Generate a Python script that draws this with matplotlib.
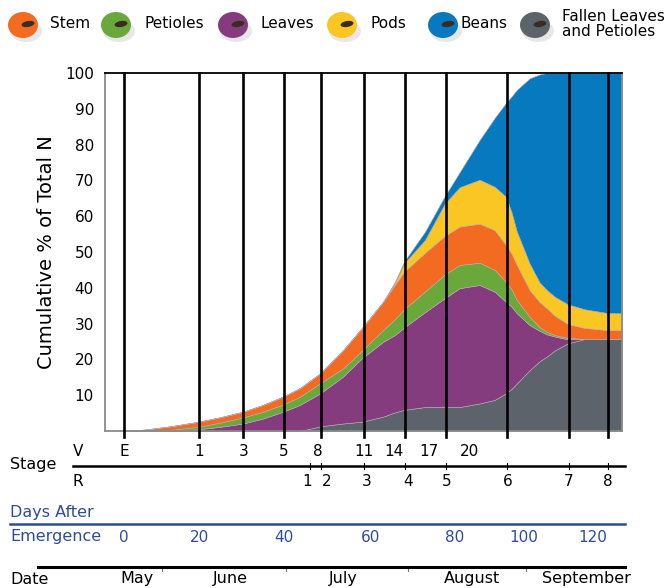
import numpy as np
import matplotlib
matplotlib.use("Agg")
from matplotlib import pyplot as plt
from matplotlib import transforms
from matplotlib.lines import Line2D
from matplotlib.patches import Ellipse

# days after emergence where the layers were read
days = [0, 5.6, 12.3, 20, 25.2, 30.4, 35.1, 39.8, 43.7, 48.3, 53.6, 57.9, 62.9, 65.7, 67.9,
        72.9, 77.6, 81.4, 87.2, 91.6, 94.8, 96.5, 98.0, 101.7, 104.6, 106.7, 109.0, 112.8,
        117.7, 124.1, 128.4]

# share of total N in each plant part (stacked bottom -> top)
fallen = [0, 0, 0, 0, 0, 0, 0, 0, 0, 1.3, 2.1, 2.6, 4.0, 5.2, 5.9,
          6.7, 6.8, 6.7, 7.7, 8.7, 10.5, 11.8, 13.3, 17.0, 19.5, 20.8, 22.5, 24.5,
          25.7, 25.7, 25.7]
leaves = [0, 0, 0.1, 0.5, 1.2, 2.1, 3.5, 5.4, 7.3, 9.2, 13.1, 17.7, 20.9, 21.6, 23.0,
          26.5, 30.3, 33.2, 33.1, 30.2, 25.6, 22.9, 19.6, 12.6, 8.5, 6.2, 3.9, 1.1,
          0, 0, 0]
petioles = [0, 0, 0.2, 0.7, 1.2, 1.7, 1.9, 2.0, 2.3, 2.8, 2.3, 2.1, 3.3, 4.4, 5.1,
            5.8, 6.6, 6.5, 6.2, 6.1, 5.6, 4.8, 3.7, 2.3, 1.0, 0.7, 0.4, 0.4,
            0, 0, 0]
stem = [0, 0.4, 1.0, 1.4, 1.5, 1.6, 1.9, 2.2, 2.4, 2.8, 5.1, 6.3, 7.9, 9.6, 10.5,
        10.8, 10.8, 10.7, 10.9, 11.1, 10.3, 10.0, 9.8, 7.5, 7.0, 6.6, 5.4, 3.9,
        3.1, 2.5, 2.5]
pods = [0, 0, 0, 0, 0, 0, 0, 0, 0, 0, 0, 0, 0, 0.5, 2.3,
        3.6, 9.0, 11.0, 12.3, 12.1, 13.5, 11.5, 9.3, 7.4, 5.5, 5.1, 5.3, 5.5,
        5.2, 4.8, 4.7]
beans = [0, 0, 0, 0, 0, 0, 0, 0, 0, 0, 0, 0, 0, 0.3, 0.5,
         2.3, 2.1, 4.2, 11.1, 19.3, 26.1, 32.5, 39.6, 51.7, 58.1, 60.6, 62.5, 64.6,
         66.0, 67.0, 67.1]

part_names = ["Stem", "Petioles", "Leaves", "Pods", "Beans", "Fallen Leaves\nand Petioles"]
part_colors = ["#f26b21", "#6aa83b", "#853c7e", "#f9c623", "#0779bf", "#5c636a"]

# growth stages (days after emergence)
v_labels = ["E", "1", "3", "5", "8", "11", "14", "17", "20"]
v_days = [0, 20, 30.4, 40, 47.8, 58.4, 65.5, 73.8, 84.3]
r_labels = ["1", "2", "3", "4", "5", "6", "7", "8"]
r_days = [46, 48.6, 58.4, 68.2, 77.8, 95.0, 113.0, 124.4]
r_label_days = [45.4, 49.8, 59.0, 68.8, 78.1, 95.4, 113.0, 124.3]
line_days = v_days[:4] + r_days[1:]

day_ticks = [0, 20, 40, 60, 80, 100, 120]
months = ["May", "June", "July", "August", "September"]
month_days = [3.5, 27.3, 53.6, 84.9, 118.3]
month_edges = [10.1, 40.5, 68.8, 100.6]

# the printed day axis is not evenly spaced, so map days through it
scale_days = [-40, 0, 20, 40, 60, 80, 100, 120, 160]
scale_pos = [-26, 124, 199, 284, 371, 455, 524, 593, 731]


def fwd(x):
    return np.interp(x, scale_days, scale_pos)


def inv(p):
    return np.interp(p, scale_pos, scale_days)


def fy(py):
    return 1 - py / 588.0


W, H = 668, 588
fig = plt.figure(figsize=(W / 100, H / 100), dpi=100)
ax = fig.add_axes([105 / W, 1 - 431 / H, (622 - 105) / W, (431 - 73) / H])
ax.set_xscale("function", functions=(fwd, inv))

fill_colors = [part_colors[5], part_colors[2], part_colors[1], part_colors[0],
               part_colors[3], part_colors[4]]
ax.stackplot(days, fallen, leaves, petioles, stem, pods, beans,
             colors=fill_colors, edgecolor="#b8a8b8", linewidth=0.4, zorder=1)

for d in line_days:
    ax.axvline(d, ymin=-0.017, ymax=1, color="black", lw=1.9, clip_on=False, zorder=3)

ax.set_xlim(-5.1, 128.5)
ax.set_ylim(0, 100)
ax.set_xticks([])
ax.set_yticks(range(10, 101, 10))
ax.tick_params(axis="y", length=0, pad=8, labelsize=11)
ax.set_ylabel("Cumulative % of Total N", fontsize=14)
ax.yaxis.set_label_coords(-0.095, 0.5)
for side in ["left", "bottom", "right"]:
    ax.spines[side].set_color("#8a8a8a")
    ax.spines[side].set_linewidth(1.3)
ax.spines["top"].set_color("black")
ax.spines["top"].set_linewidth(1.3)

# rows under the chart: x follows the day axis, y is figure space
trans = transforms.blended_transform_factory(ax.transData, fig.transFigure)
blue = "#2f4c9c"

fig.text(10 / W, fy(465), "Stage", va="center", fontsize=11.5)
fig.text(78 / W, fy(452), "V", ha="center", va="center", fontsize=11)
fig.text(78 / W, fy(481), "R", ha="center", va="center", fontsize=11)
for lab, d in zip(v_labels, v_days):
    ax.text(d, fy(452), lab, transform=trans, ha="center", va="center", fontsize=11)
for lab, d in zip(r_labels, r_label_days):
    ax.text(d, fy(481), lab, transform=trans, ha="center", va="center", fontsize=11)
for d in r_days:
    ax.plot([d, d], [fy(463), fy(469)], transform=trans, color="black", lw=0.8,
            clip_on=False, scalex=False, scaley=False)
fig.add_artist(Line2D([73 / W, 625 / W], [fy(466), fy(466)], color="black", lw=1.8))

fig.text(10 / W, fy(513), "Days After", va="center", fontsize=11.5, color=blue)
fig.text(10 / W, fy(536), "Emergence", va="center", fontsize=11.5, color=blue)
fig.add_artist(Line2D([10 / W, 625 / W], [fy(524), fy(524)], color=blue, lw=1.8))
for d in day_ticks:
    ax.text(d, fy(537), str(d), transform=trans, ha="center", va="center",
            fontsize=11, color=blue)

fig.add_artist(Line2D([38 / W, 625 / W], [fy(567), fy(567)], color="black", lw=2.2))
fig.text(10 / W, fy(579), "Date", va="center", fontsize=11.5)
for m, d in zip(months, month_days):
    ax.text(d, fy(579), m, transform=trans, ha="center", va="center", fontsize=11.5)
for d in month_edges:
    ax.plot([d, d], [fy(567), fy(571)], transform=trans, color="#777777", lw=0.8,
            clip_on=False, scalex=False, scaley=False)

# legend: coloured beads across the top
lax = fig.add_axes([0, 0, 1, 1], zorder=5)
lax.set_xlim(0, W)
lax.set_ylim(H, 0)
lax.axis("off")
bead_x = [23, 116, 233, 342, 443, 535]
text_x = [50, 145, 261, 370, 460, 562]
for name, col, bx, tx in zip(part_names, part_colors, bead_x, text_x):
    lax.add_patch(Ellipse((bx + 3, 31), 32, 22, color="#d0d0d0", alpha=0.5, lw=0))
    lax.add_patch(Ellipse((bx, 25), 30, 26, color=col, lw=0))
    lax.add_patch(Ellipse((bx + 5, 24), 13, 6, angle=-10, color="#3b2c22", lw=0))
    lax.text(tx, 24, name, va="center", ha="left", fontsize=11, linespacing=0.95)

fig.savefig("out.png", dpi=100)
